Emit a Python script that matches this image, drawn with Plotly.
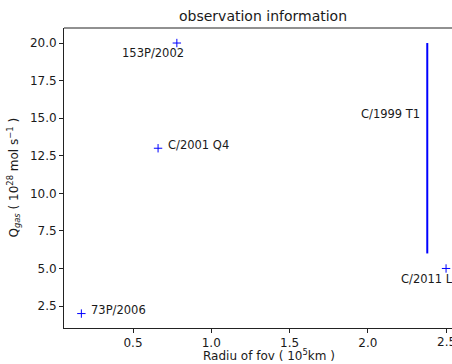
import plotly.graph_objects as go

# Data
comets = ["73P/2006", "C/2001 Q4", "153P/2002", "C/2011 L4"]
radius = [0.17, 0.66, 0.78, 2.50]
qgas = [2.0, 13.0, 20.0, 5.0]

line_name = "C/1999 T1"
line_x = [2.38, 2.38]
line_q = [6.0, 20.0]

x_ticks = [0.5, 1.0, 1.5, 2.0, 2.5]
y_ticks = [2.5, 5.0, 7.5, 10.0, 12.5, 15.0, 17.5, 20.0]

# label offsets in pixels (xshift, yshift, xanchor)
label_offsets = {
    "73P/2006": (8, 4, "left"),
    "C/2001 Q4": (8, 3, "left"),
    "153P/2002": (-24, -10, "center"),
    "C/2011 L4": (-47, -11, "left"),
}

FONT = "DejaVu Sans"
TXT = "#1a1a1a"

fig = go.Figure()
fig.add_trace(go.Scatter(
    x=radius, y=qgas, mode="markers",
    marker=dict(symbol="cross-thin", size=6, line=dict(color="blue", width=1), color="blue"),
    showlegend=False, hoverinfo="skip"))
fig.add_trace(go.Scatter(
    x=line_x, y=line_q, mode="lines",
    line=dict(color="blue", width=2), showlegend=False, hoverinfo="skip"))

annotations = []
for name, xv, yv in zip(comets, radius, qgas):
    xs, ys, xa = label_offsets[name]
    annotations.append(dict(x=xv, y=yv, xref="x", yref="y", text=name, showarrow=False,
                            xshift=xs, yshift=ys, xanchor=xa, yanchor="middle",
                            font=dict(family=FONT, size=11.5, color=TXT)))
annotations.append(dict(x=line_x[0], y=15.3, xref="x", yref="y", text=line_name, showarrow=False,
                        xshift=-5, xanchor="right", yanchor="middle",
                        font=dict(family=FONT, size=11.5, color=TXT)))
# last tick label, partially outside the figure as in the reference
annotations.append(dict(x=x_ticks[-1], y=0, xref="x", yref="paper", text=f"{x_ticks[-1]:.1f}",
                        showarrow=False, xanchor="center", yanchor="top", yshift=-5,
                        font=dict(family=FONT, size=12, color=TXT)))
# axis titles
annotations.append(dict(x=0.528, y=-0.058, xref="paper", yref="paper", text="Radiu of fov ( 10<sup>5</sup>km )",
                        showarrow=False, xanchor="center", yanchor="top",
                        font=dict(family=FONT, size=12, color=TXT)))
annotations.append(dict(x=-0.13, y=0.5, xref="paper", yref="paper",
                        text="Q<sub><i>gas</i></sub> ( 10<sup>28</sup> mol s<sup>−1</sup> )",
                        showarrow=False, textangle=-90, xanchor="center", yanchor="middle",
                        font=dict(family=FONT, size=12, color=TXT)))
annotations.append(dict(x=0.513, y=1.0, xref="paper", yref="paper", text="observation information",
                        showarrow=False, xanchor="center", yanchor="bottom", yshift=2,
                        font=dict(family=FONT, size=14, color=TXT)))

fig.update_layout(
    width=452, height=364,
    margin=dict(l=64, r=0, t=28, b=36),
    paper_bgcolor="white", plot_bgcolor="white",
    annotations=annotations,
    shapes=[dict(type="line", xref="paper", yref="paper", x0=0, x1=1, y0=1, y1=1,
                 line=dict(color="#222", width=1))],
    xaxis=dict(range=[0.059, 2.538], tickvals=x_ticks, ticktext=[f"{v:.1f}" for v in x_ticks[:-1]] + [""],
               showgrid=False, zeroline=False, showline=True, linecolor="#222", linewidth=1,
               ticks="outside", ticklen=4, tickcolor="#222",
               tickfont=dict(family=FONT, size=12, color=TXT)),
    yaxis=dict(range=[1.04, 21.0], tickvals=y_ticks, ticktext=[f"{v:.1f}" for v in y_ticks],
               showgrid=False, zeroline=False, showline=True, linecolor="#222", linewidth=1,
               ticks="outside", ticklen=4, tickcolor="#222",
               tickfont=dict(family=FONT, size=12, color=TXT)),
)

fig.write_html("out.html")
